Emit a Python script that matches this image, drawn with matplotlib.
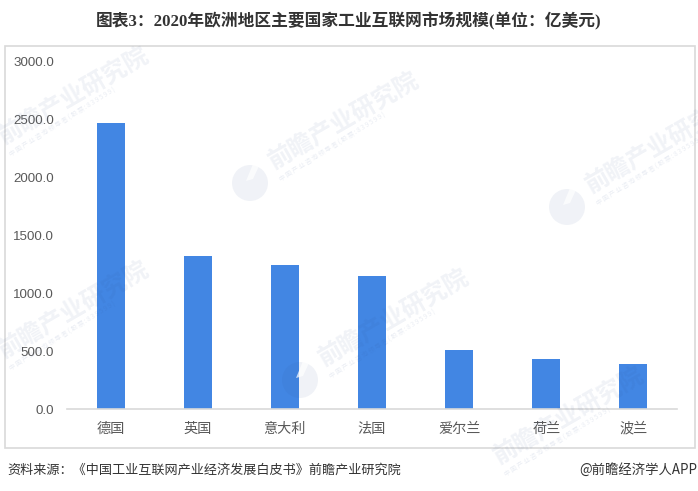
import matplotlib
matplotlib.use('Agg')
from matplotlib import pyplot as plt
from matplotlib.patches import Circle, Rectangle, Polygon

plt.rcParams['font.family'] = ['Noto Sans CJK SC', 'DejaVu Sans']

countries = ['德国', '英国', '意大利', '法国', '爱尔兰', '荷兰', '波兰']
market_size = [2472, 1322, 1245, 1150, 510, 432, 389]
y_ticks = [0, 500, 1000, 1500, 2000, 2500, 3000]

title = '图表3：2020年欧洲地区主要国家工业互联网市场规模(单位：亿美元)'
source = '资料来源：《中国工业互联网产业经济发展白皮书》前瞻产业研究院'
credit = '@前瞻经济学人APP'
wm_name = '前瞻产业研究院'
wm_sub = '中 国 产 业 咨 询 领 导 者 ( 股 票 : 8 3 9 5 9 9 )'

W, H = 698, 491
fig = plt.figure(figsize=(W/100, H/100), dpi=100, facecolor='white')

# page layer, pixel coords
page = fig.add_axes([0, 0, 1, 1], zorder=0)
page.set_xlim(0, W)
page.set_ylim(H, 0)
page.axis('off')
page.add_patch(Rectangle((4.5, 45.5), 690, 402, fc='white', ec='#d9d9d9', lw=1.2))

page.text(349, 21, title, ha='center', va='center', fontsize=12.05, fontweight='bold',
          color='#333333', family=['Liberation Serif', 'Noto Sans CJK SC'])
page.text(7, 470, source, ha='left', va='center', fontsize=9.45, color='#333333')
page.text(697, 470, credit, ha='right', va='center', fontsize=9.6, color='#333333')

# chart
ax = fig.add_axes([67/W, 1 - 409/H, 610/W, 347/H], zorder=1)
ax.patch.set_alpha(0)
ax.bar(range(len(countries)), market_size, width=0.32, color='#4286e3')
ax.set_xlim(-0.5, 6.5)
ax.set_ylim(0, 3000)
ax.set_yticks(y_ticks)
ax.set_yticklabels(['%.1f' % v for v in y_ticks], family='Liberation Sans', fontsize=9.6, color='#595959')
ax.set_xticks(range(len(countries)))
ax.set_xticklabels(countries, fontsize=10.2, color='#595959', va='baseline')
ax.tick_params(axis='both', length=0)
ax.tick_params(axis='y', pad=9.4)
ax.tick_params(axis='x', pad=17)
for side in ['top', 'right', 'left']:
    ax.spines[side].set_visible(False)
ax.spines['bottom'].set_color('#d9d9d9')
ax.spines['bottom'].set_linewidth(1.2)

# watermarks on top of everything inside the frame
wm = fig.add_axes([0, 0, 1, 1], zorder=2)
wm.patch.set_alpha(0)
wm.set_xlim(0, W)
wm.set_ylim(H, 0)
wm.axis('off')
clip = Rectangle((5, 46), 689, 401, transform=wm.transData)

wm_places = [(-20, 158), (250, 183), (567, 207), (300, 380), (-20, 372), (475, 478)]
for lx, ly in wm_places:
    logo = Circle((lx, ly), 18, fc='#2f4f8f', ec='none', alpha=0.07)
    wm.add_patch(logo)
    logo.set_clip_path(clip)
    notch = Polygon([(lx + 3, ly - 19), (lx + 9, ly - 17), (lx + 3, ly - 4), (lx - 4, ly - 2)],
                    fc='white', ec='none', alpha=0.7)
    wm.add_patch(notch)
    notch.set_clip_path(clip)
    big = wm.text(lx + 20, ly - 20, wm_name, fontsize=17.5, color='#2f4f8f', alpha=0.07,
                  rotation=30, rotation_mode='anchor', ha='left', va='center', fontweight='bold')
    big.set_clip_path(clip)
    small = wm.text(lx + 30, ly - 3, wm_sub, fontsize=4.6, color='#2f4f8f', alpha=0.1,
                    rotation=32, rotation_mode='anchor', ha='left', va='center')
    small.set_clip_path(clip)

fig.savefig('out.png', dpi=100)
